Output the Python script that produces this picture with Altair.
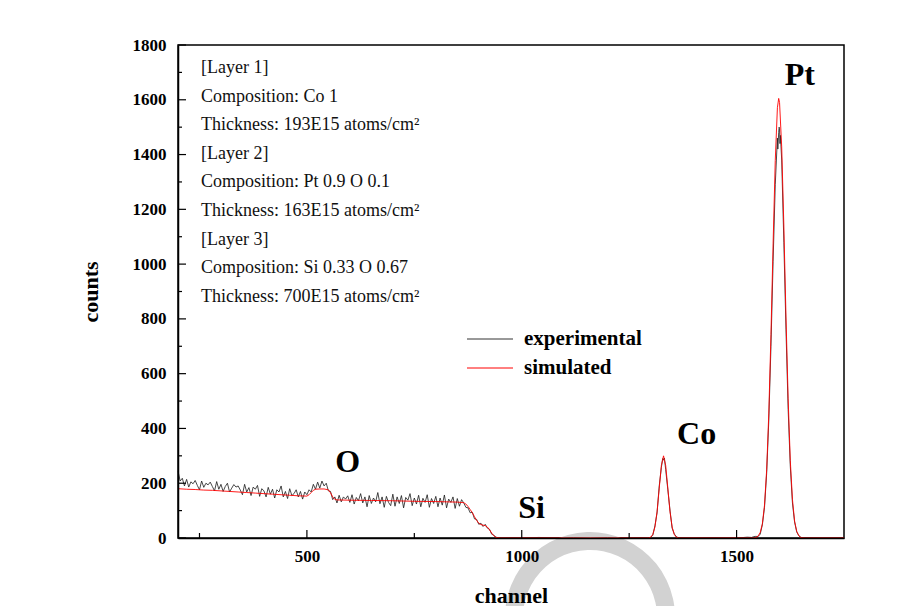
import altair as alt
import pandas as pd

# ---------------- data ----------------
# experimental spectrum, noisy low-energy part (channel 200..950, step 5)
exp_noisy_channel = list(range(200, 955, 5))
exp_noisy_counts = [
    245, 208, 218, 190, 214, 186, 205, 198, 210, 192, 176, 208, 185, 200, 194, 204, 188, 172, 206, 178,
    196, 170, 188, 200, 168, 182, 195, 186, 190, 175, 158, 196, 168, 184, 155, 186, 178, 192, 152, 180,
    172, 150, 185, 160, 178, 146, 176, 168, 190, 150, 170, 144, 180, 155, 162, 176, 150, 170, 142, 168,
    158, 176, 168, 196, 178, 204, 182, 208, 190, 200, 172, 170, 140, 150, 128, 156, 132, 150, 142, 154,
    130, 158, 124, 148, 136, 162, 128, 150, 114, 155, 126, 146, 132, 166, 125, 150, 112, 152, 130, 118,
    160, 116, 150, 126, 155, 110, 148, 138, 162, 118, 146, 124, 156, 114, 145, 130, 158, 112, 144, 126,
    152, 114, 146, 120, 157, 110, 142, 130, 150, 108, 144, 116, 140, 128, 112, 110, 92, 94, 70, 68,
    50, 54, 42, 50, 36, 32, 14, 10, 3, 1, 0,
]
# experimental spectrum, high-energy part (Si edge, Co and Pt peaks)
exp_peak_channel = [
    960, 980, 1000, 1040, 1080, 1120, 1160, 1200, 1240, 1280, 1295,
    1300, 1305, 1310, 1315, 1320, 1325, 1328, 1330, 1332, 1335, 1340, 1345, 1350, 1355, 1360, 1365,
    1400, 1440, 1480, 1510, 1525, 1535, 1540, 1545,
    1550, 1555, 1560, 1565, 1570, 1575, 1580, 1585, 1590, 1595, 1596, 1598, 1599, 1600, 1601, 1602,
    1605, 1610, 1615, 1620, 1625, 1630, 1635, 1640, 1645, 1650, 1660, 1700, 1750,
]
exp_peak_counts = [
    0, 1, 0, 2, 0, 1, 0, 1, 0, 1, 0,
    2, 10, 45, 92, 190, 258, 290, 284, 292, 250, 176, 102, 36, 15, 4, 1,
    0, 1, 0, 1, 3, 2, 5, 6,
    5, 14, 48, 112, 236, 430, 700, 1010, 1290, 1460, 1420, 1480, 1500, 1495, 1440, 1470,
    1380, 1080, 760, 470, 262, 128, 58, 22, 8, 2, 1, 0, 0,
]

# simulated spectrum
sim_channel = [
    200, 220, 240, 260, 280, 300, 320, 340, 360, 380, 400, 420, 440, 460, 480, 500,
    505, 510, 515, 520, 530, 540, 550, 555, 560, 565, 570, 600, 650, 700, 750, 800, 850,
    865, 870, 875, 880, 885, 890, 895, 900, 905, 910, 915, 920, 925, 930, 935, 940, 950,
    1000, 1100, 1200, 1295,
    1300, 1305, 1310, 1315, 1320, 1325, 1330, 1335, 1340, 1345, 1350, 1355, 1360, 1365,
    1450, 1540, 1545,
    1550, 1555, 1560, 1565, 1570, 1575, 1580, 1585, 1590, 1595, 1598, 1600,
    1605, 1610, 1615, 1620, 1625, 1630, 1635, 1640, 1645, 1650, 1660, 1750,
]
sim_counts = [
    180, 178, 177, 175, 174, 172, 170, 168, 166, 164, 162, 160, 158, 156, 154, 153,
    158, 166, 174, 178, 179, 179, 176, 165, 150, 141, 139, 138, 137, 136, 134, 133, 131,
    129, 124, 115, 104, 92, 78, 64, 54, 49, 47, 45, 40, 30, 18, 8, 2, 0,
    0, 0, 0, 0,
    3, 13, 40, 97, 182, 265, 300, 265, 182, 97, 40, 13, 3, 0,
    0, 0, 2,
    7, 20, 52, 120, 249, 456, 743, 1074, 1378, 1571, 1605, 1590,
    1428, 1139, 807, 508, 283, 141, 62, 24, 8, 1, 0, 0,
]

# axis ticks
x_major_ticks = [500, 1000, 1500]
x_minor_ticks = [250, 750, 1250]
y_major_ticks = [0, 200, 400, 600, 800, 1000, 1200, 1400, 1600, 1800]
y_minor_ticks = [100, 300, 500, 700, 900, 1100, 1300, 1500, 1700]

# annotations
info_lines = [
    "[Layer 1]",
    "Composition: Co 1",
    "Thickness: 193E15 atoms/cm\u00b2",
    "[Layer 2]",
    "Composition: Pt 0.9 O 0.1",
    "Thickness: 163E15 atoms/cm\u00b2",
    "[Layer 3]",
    "Composition: Si 0.33 O 0.67",
    "Thickness: 700E15 atoms/cm\u00b2",
]
peak_labels = ["O", "Si", "Co", "Pt"]
peak_label_channel = [595, 1023, 1407, 1647]
peak_label_counts = [277, 110, 380, 1690]

# ---------------- chart ----------------
W, H = 666, 493
FONT = "Liberation Serif"
x_scale = alt.Scale(domain=[200, 1750], nice=False, zero=False)
y_scale = alt.Scale(domain=[0, 1800], nice=False)

exp_df = pd.DataFrame({
    "channel": exp_noisy_channel + exp_peak_channel,
    "counts": exp_noisy_counts + exp_peak_counts,
})
sim_df = pd.DataFrame({"channel": sim_channel, "counts": sim_counts})

x_axis = alt.Axis(
    values=x_major_ticks, format="d", ticks=False, grid=False, labelFont=FONT, labelFontWeight="bold",
    labelFontSize=17, labelPadding=10, labelColor="black", domainColor="black", domainWidth=1.5,
    title="channel", titleFont=FONT, titleFontSize=22, titleFontWeight="bold", titleColor="black",
    titleX=W / 2, titleY=57, titleBaseline="middle", titleAlign="center", zindex=1,
)
y_axis = alt.Axis(
    values=y_major_ticks, format="d", ticks=False, grid=False, labelFont=FONT, labelFontWeight="bold",
    labelFontSize=17, labelPadding=12, labelColor="black", domainColor="black", domainWidth=1.5,
    title="counts", titleFont=FONT, titleFontSize=22, titleFontWeight="bold", titleColor="black",
    titleX=-88, titleY=H / 2, titleAngle=270, titleBaseline="middle", titleAlign="center", zindex=1,
)

base_one = pd.DataFrame({"k": [0]})

watermark = alt.Chart(base_one).mark_arc(
    color="#d2d2d2", radius=85, radius2=67, theta=4.4, theta2=8.1
).encode(x=alt.value(412), y=alt.value(572))

exp_line = alt.Chart(exp_df).mark_line(color="#1a1a1a", strokeWidth=0.8).encode(
    x=alt.X("channel:Q", scale=x_scale, axis=x_axis),
    y=alt.Y("counts:Q", scale=y_scale, axis=y_axis),
)
sim_line = alt.Chart(sim_df).mark_line(color="#ff0000", strokeWidth=0.9).encode(
    x=alt.X("channel:Q", scale=x_scale),
    y=alt.Y("counts:Q", scale=y_scale),
)

def yticks(vals, length):
    return alt.Chart(pd.DataFrame({"v": vals})).mark_rule(color="black", strokeWidth=1.2).encode(
        y=alt.Y("v:Q", scale=y_scale), x=alt.value(0), x2=alt.value(length)
    )

def xticks(vals, length):
    return alt.Chart(pd.DataFrame({"v": vals})).mark_rule(color="black", strokeWidth=1.2).encode(
        x=alt.X("v:Q", scale=x_scale), y=alt.value(H), y2=alt.value(H - length)
    )

info_text = alt.Chart(base_one).mark_text(
    text=info_lines, font=FONT, fontSize=18, align="left", baseline="alphabetic",
    lineHeight=28.6, color="#111111"
).encode(x=alt.value(23), y=alt.value(28))

peaks_df = pd.DataFrame({"label": peak_labels, "channel": peak_label_channel, "counts": peak_label_counts})
peak_text = alt.Chart(peaks_df).mark_text(
    font=FONT, fontSize=32, fontWeight="bold", align="center", baseline="middle", color="black"
).encode(
    x=alt.X("channel:Q", scale=x_scale),
    y=alt.Y("counts:Q", scale=y_scale),
    text="label:N",
)

leg_exp = alt.Chart(base_one).mark_rule(color="#333333", strokeWidth=1).encode(
    x=alt.value(289), x2=alt.value(335), y=alt.value(294))
leg_sim = alt.Chart(base_one).mark_rule(color="#ff0000", strokeWidth=1).encode(
    x=alt.value(289), x2=alt.value(335), y=alt.value(323))
leg_exp_t = alt.Chart(base_one).mark_text(
    text="experimental", font=FONT, fontSize=21, fontWeight="bold", align="left",
    baseline="middle", color="black").encode(x=alt.value(346), y=alt.value(294))
leg_sim_t = alt.Chart(base_one).mark_text(
    text="simulated", font=FONT, fontSize=21, fontWeight="bold", align="left",
    baseline="middle", color="black").encode(x=alt.value(346), y=alt.value(323))

chart = alt.layer(
    watermark, exp_line, sim_line,
    yticks(y_major_ticks, 8), yticks(y_minor_ticks, 4),
    xticks(x_major_ticks, 8), xticks(x_minor_ticks, 5),
    info_text, peak_text, leg_exp, leg_sim, leg_exp_t, leg_sim_t,
).properties(
    width=W, height=H,
    autosize=alt.AutoSizeParams(type="none"),
    padding={"left": 170, "top": 37, "right": 60, "bottom": 68},
    background="white",
).configure_view(stroke="black", strokeWidth=1.5)

chart.save("out.html", embed_options={"renderer": "svg", "actions": False})
